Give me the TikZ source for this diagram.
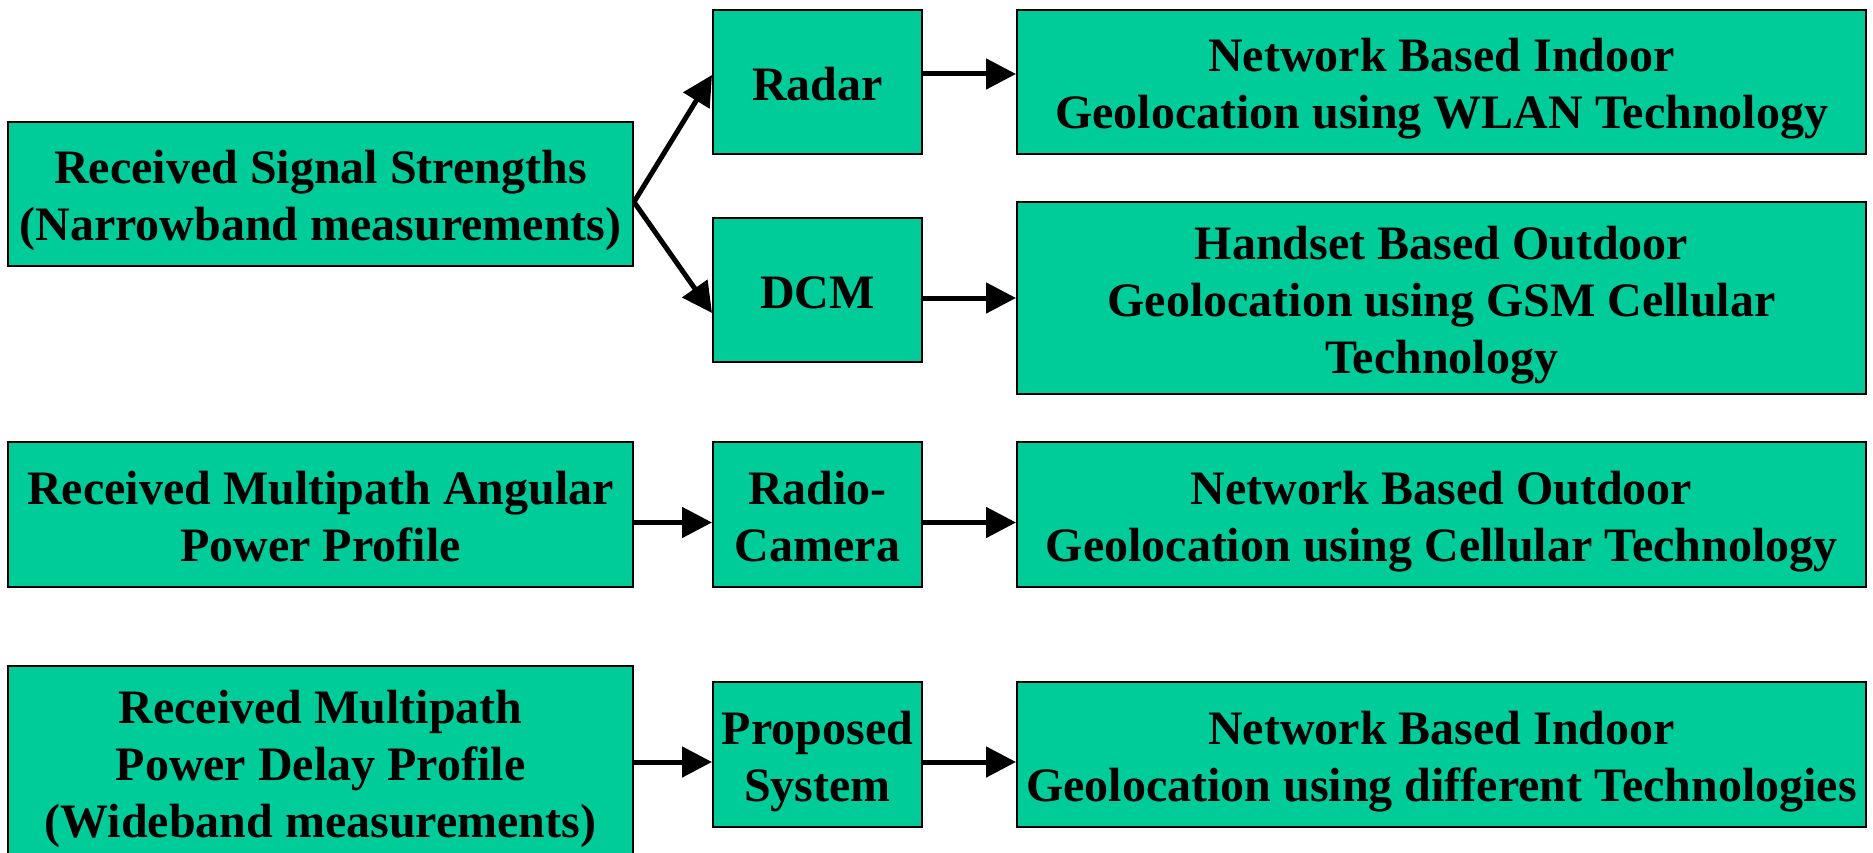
\documentclass[tikz,border=0pt]{standalone}
\usepackage{fontspec}
\setmainfont{Liberation Serif}
\usetikzlibrary{arrows.meta}
\definecolor{boxgreen}{RGB}{0,204,153}
\newcommand\tstr{\rule{0pt}{47.3pt}}
\newcommand\bstr{\rule[-10.4pt]{0pt}{0pt}}
\begin{document}
\begin{tikzpicture}[x=1pt,y=-1pt,
  box/.style={draw=black,line width=2pt,fill=boxgreen,inner sep=0pt,align=center,
    font=\fontsize{48}{57}\selectfont\bfseries},
  lbox/.style={box,minimum width=625pt},
  mbox/.style={box,minimum width=209pt},
  rbox/.style={box,minimum width=849pt},
  arr/.style={line width=5pt,-{Triangle[length=30pt,width=30pt]}}]
\useasboundingbox (0,0) rectangle (1873,853);
\begin{scope}
\clip (0,0) rectangle (1873,853);
\node[lbox,minimum height=144pt] (rss) at (320.5,194) {\tstr Received Signal Strengths\\(Narrowband measurements)\bstr};
\node[mbox,minimum height=144pt] (radar) at (817.5,82) {\tstr Radar\bstr};
\node[rbox,minimum height=144pt] (wlan) at (1441.5,82) {\tstr Network Based Indoor\\Geolocation using WLAN Technology\bstr};
\node[mbox,minimum height=144pt] (dcm) at (817.5,290) {\tstr DCM\bstr};
\node[rbox,minimum height=192pt] (gsm) at (1441.5,298) {\tstr Handset Based Outdoor\\Geolocation using GSM Cellular\\Technology\bstr};
\node[lbox,minimum height=145pt] (ang) at (320.5,514.5) {\tstr Received Multipath Angular\\Power Profile\bstr};
\node[mbox,minimum height=145pt] (radio) at (817.5,514.5) {\tstr Radio-\\Camera\bstr};
\node[rbox,minimum height=145pt] (outd) at (1441.5,514.5) {\tstr Network Based Outdoor\\Geolocation using Cellular Technology\bstr};
\node[lbox,minimum height=192pt] (pdp) at (320.5,762) {\tstr Received Multipath\\Power Delay Profile\\(Wideband measurements)\bstr};
\node[mbox,minimum height=145pt] (prop) at (817.5,754.5) {\tstr Proposed\\System\bstr};
\node[rbox,minimum height=145pt] (diff) at (1441.5,754.5) {\tstr Network Based Indoor\\Geolocation using different Technologies\bstr};
\end{scope}
\draw[arr] ([yshift=-8pt]rss.east) -- ([yshift=7pt]radar.west);
\draw[arr] ([yshift=-8pt]rss.east) -- ([yshift=-23pt]dcm.west);
\draw[arr] ([yshift=8pt]radar.east) -- ([yshift=8pt]wlan.west);
\draw[arr] ([yshift=-8pt]dcm.east) -- (gsm.west);
\draw[arr] ([yshift=-8pt]ang.east) -- ([yshift=-8pt]radio.west);
\draw[arr] ([yshift=-8pt]radio.east) -- ([yshift=-8pt]outd.west);
\draw[arr] (pdp.east) -- ([yshift=-7.5pt]prop.west);
\draw[arr] ([yshift=-7.5pt]prop.east) -- ([yshift=-7.5pt]diff.west);
\end{tikzpicture}
\end{document}
